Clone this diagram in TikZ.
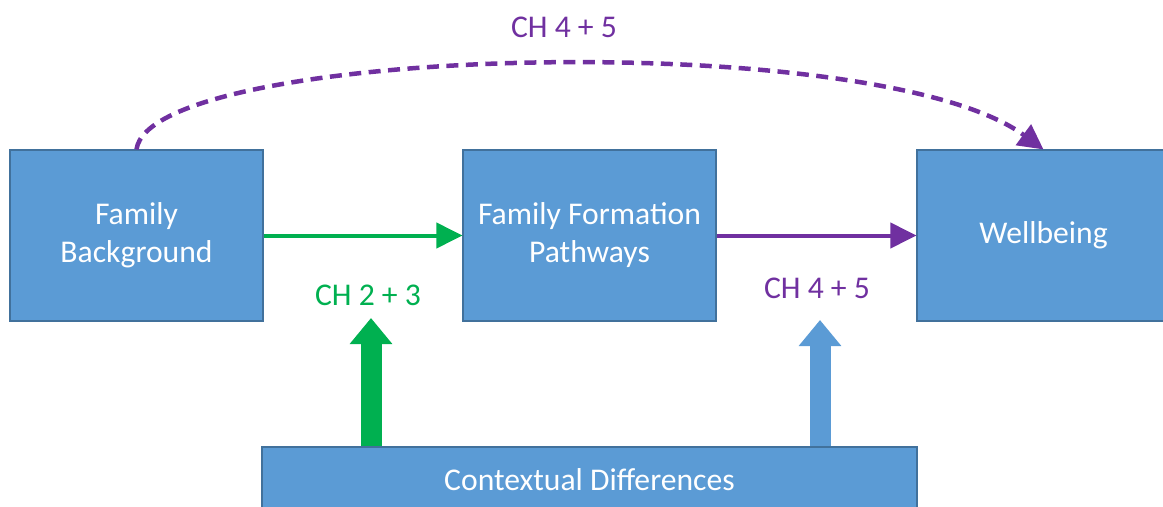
\documentclass[tikz,border=0pt]{standalone}
\usepackage{fontspec}
\setmainfont{Carlito}
\usetikzlibrary{arrows.meta}
\definecolor{boxblue}{HTML}{5B9BD5}
\definecolor{boxedge}{HTML}{41719C}
\definecolor{chgreen}{HTML}{00B050}
\definecolor{chpurple}{HTML}{7030A0}
\tikzset{
  stagebox/.style={draw=boxedge, line width=0.6pt, fill=boxblue, text=white, align=center,
    minimum width=5.06cm, minimum height=3.42cm, inner sep=0pt, font=\fontsize{18}{21.6}\selectfont},
  chlabel/.style={font=\fontsize{18}{21.6}\selectfont},
  thinarrow/.style={line width=0.08cm, -{Triangle[length=0.52cm, width=0.5cm]}},
  fatarrow/.style={line width=0.42cm, -{Triangle[length=0.52cm, width=0.82cm]}}
}
\begin{document}
\begin{tikzpicture}
  \useasboundingbox (0,0) rectangle (23.26,10.12);
  \clip (0,0) rectangle (23.26,10.12);

  % Main boxes
  \node[stagebox] (fb) at (2.73, 5.41) {Family\\Background};
  \node[stagebox] (ffp) at (11.79, 5.41) {Family Formation\\Pathways};
  \node[stagebox] (wb) at (20.87, 5.41) {Wellbeing};
  \node[stagebox, minimum width=13.1cm, minimum height=1.32cm] (cd) at (11.79, 0.52) {Contextual Differences};

  % Chapter labels
  \node[chlabel, text=chgreen] (ch23) at (7.36, 4.22) {CH 2 + 3};
  \node[chlabel, text=chpurple] (ch45) at (16.34, 4.36) {CH 4 + 5};
  \node[chlabel, text=chpurple] (chtop) at (11.28, 9.58) {CH 4 + 5};

  % Pathway arrows
  \draw[thinarrow, chgreen] (fb.east) -- (ffp.west);
  \draw[thinarrow, chpurple] (ffp.east) -- (wb.west);

  % Direct link (dashed arc above)
  \draw[line width=0.09cm, chpurple, dash pattern=on 0.24cm off 0.15cm,
    -{Triangle[length=0.5cm, width=0.5cm]}]
    (fb.north) .. controls (3.0, 9.2) and (17.5, 9.6) .. (wb.north);

  % Context arrows (from below)
  \coordinate (greentip) at (7.42, 3.76);
  \coordinate (bluetip) at (16.4, 3.72);
  \draw[fatarrow, chgreen] (cd.north -| greentip) -- (greentip);
  \draw[fatarrow, boxblue] (cd.north -| bluetip) -- (bluetip);
\end{tikzpicture}
\end{document}
